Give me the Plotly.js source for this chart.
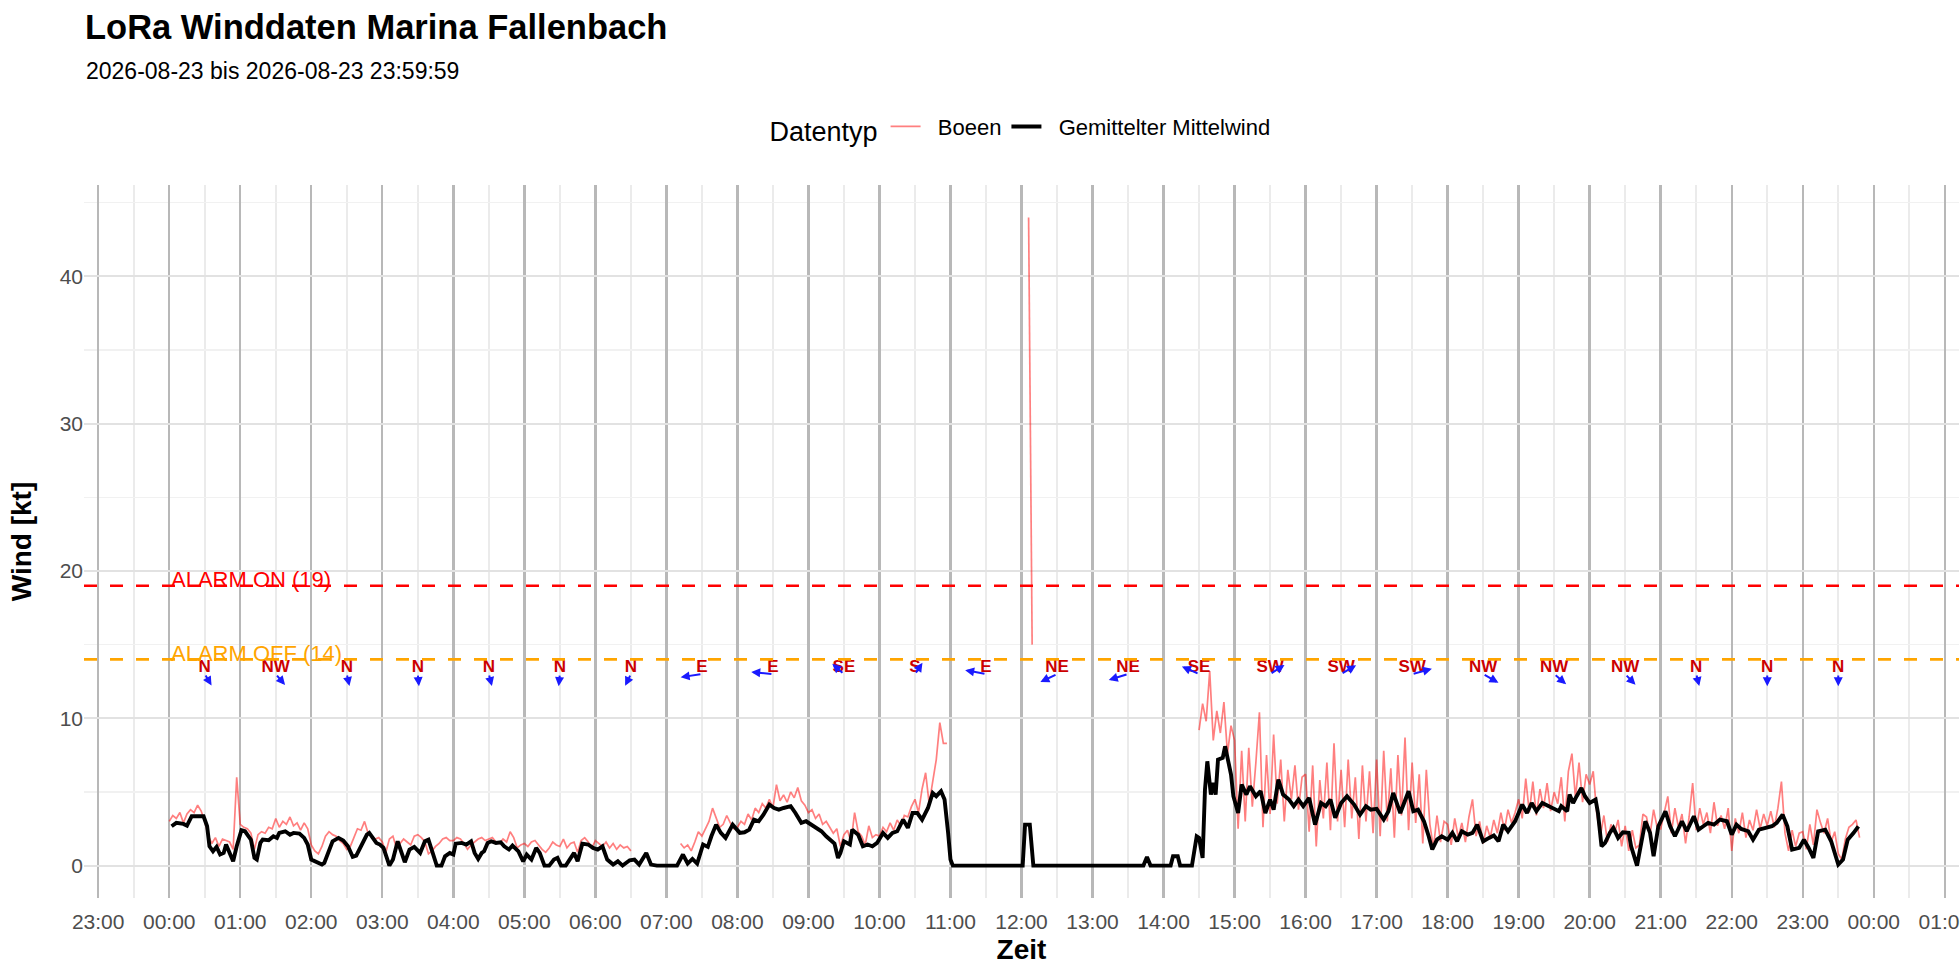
<!DOCTYPE html>
<html><head><meta charset="utf-8">
<script src="https://cdn.plot.ly/plotly-3.0.1.min.js"></script>
<style>html,body{margin:0;padding:0;background:#fff}#chart{width:1960px;height:980px}</style>
</head><body><div id="chart"></div>
<script>
// ---------- DATA ----------
const chartTitle = 'LoRa Winddaten Marina Fallenbach';
const periodStart = '2026-08-23';
const periodEnd = '2026-08-23 23:59:59';
const legendTitle = 'Datentyp';
const seriesNames = ['Boeen', 'Gemittelter Mittelwind'];
const alarmOn = 19;
const alarmOff = 14;

// Gemittelter Mittelwind: [minutes after 00:00, knots]
const meanSamples = [
 [2,2.67],[6,2.9],[12,2.83],[15,2.71],[19,3.35],[23,3.35],[29,3.35],[32,2.67],[34,1.31],[37,0.97],
 [40,1.27],[43,0.75],[46,0.86],[48,1.43],[51,0.86],[54,0.29],[57,1.31],[61,2.4],[64,2.33],[67,1.99],
 [69,1.76],[72,0.52],[74,0.41],[77,1.54],[79,1.76],[84,1.72],[88,1.99],[91,1.88],[93,2.22],[98,2.33],
 [102,2.1],[105,2.22],[110,2.17],[114,1.88],[117,1.43],[120,0.41],[124,0.23],[129,0.07],[131,0.18],[134,0.86],
 [138,1.65],[143,1.88],[147,1.7],[151,1.31],[155,0.59],[158,0.68],[162,1.27],[167,2.1],[169,2.22],[172,1.88],
 [175,1.54],[178,1.43],[181,1.2],[186,0],[189,0.41],[193,1.65],[196,0.86],[199,0.23],[203,1.09],[207,1.27],
 [212,0.86],[216,1.65],[219,1.76],[221,1.31],[226,0],[230,0],[233,0.63],[237,0.86],[240,0.75],[242,1.49],
 [247,1.54],[251,1.43],[255,1.65],[258,0.86],[261,0.45],[264,0.86],[266,0.97],[269,1.54],[272,1.65],[276,1.54],
 [280,1.58],[283,1.31],[287,1.09],[290,1.36],[295,0.97],[299,0.29],[302,0.75],[306,0.41],[310,1.2],[313,0.86],
 [317,0],[321,0],[325,0.41],[328,0.52],[331,0],[335,0],[338,0.41],[342,0.86],[345,0.29],[349,1.49],
 [354,1.43],[358,1.2],[362,1.09],[366,1.31],[370,0.41],[375,0.07],[379,0.29],[383,0],[389,0.36],[393,0.41],
 [397,0.07],[403,0.86],[407,0.07],[412,0],[420,0],[429,0],[434,0.75],[438,0.14],[442,0.45],[446,0.14],
 [451,1.43],[455,1.27],[458,1.99],[462,2.78],[466,2.22],[470,1.88],[476,2.78],[482,2.22],[486,2.26],[490,2.44],
 [494,3.12],[498,3.01],[502,3.46],[507,4.14],[511,3.91],[515,3.8],[519,3.91],[525,4.03],[529,3.57],[534,2.9],
 [538,3.01],[542,2.78],[546,2.56],[551,2.33],[555,1.99],[559,1.65],[562,1.49],[565,0.52],[567,0.86],[570,1.65],
 [575,1.43],[577,2.44],[582,2.1],[586,1.31],[590,1.43],[594,1.31],[598,1.54],[603,2.22],[607,1.88],[611,2.22],
 [615,2.33],[620,3.12],[624,2.56],[628,3.57],[632,3.57],[636,3.12],[641,3.91],[645,4.93],[648,4.71],[652,5.05],
 [655,4.48],[658,2.22],[660,0.41],[662,0],[721,0],[723,2.78],[727,2.78],[730,0],[823,0],[826,0.59],
 [829,0],[846,0],[848,0.63],[852,0.63],[854,0],[864,0],[868,1.99],[870,1.88],[873,0.52],[875,5.16],
 [877,7.08],[880,4.82],[882,5.61],[884,4.82],[886,7.19],[890,7.31],[892,8.1],[897,6.18],[899,4.71],[903,3.57],
 [906,5.5],[910,4.82],[913,5.38],[918,4.71],[922,5.05],[926,3.57],[930,4.48],[933,3.8],[937,5.84],[941,4.82],
 [946,4.48],[950,4.03],[954,4.48],[958,4.03],[963,4.59],[968,2.78],[973,4.25],[977,4.03],[981,4.48],[985,3.24],
 [990,4.25],[995,4.71],[1001,4.14],[1006,3.46],[1011,4.03],[1015,3.8],[1020,3.85],[1026,3.12],[1030,3.69],[1034,4.93],
 [1040,3.57],[1047,5.05],[1051,3.69],[1055,3.8],[1060,3.01],[1064,1.99],[1067,1.09],[1071,1.76],[1075,1.99],[1080,1.76],
 [1084,2.22],[1088,1.65],[1092,2.33],[1097,2.1],[1101,2.22],[1105,2.78],[1110,1.65],[1115,1.88],[1119,2.04],[1123,1.65],
 [1127,2.78],[1131,2.33],[1137,3.01],[1143,4.14],[1147,3.57],[1151,4.25],[1155,3.69],[1160,4.25],[1165,4.03],[1174,3.69],
 [1176,4.03],[1181,3.69],[1183,4.82],[1186,4.25],[1189,4.71],[1193,5.27],[1196,4.71],[1200,4.25],[1205,4.48],[1207,3.57],
 [1210,1.31],[1213,1.54],[1217,2.22],[1220,2.56],[1224,1.88],[1228,2.26],[1233,2.22],[1235,1.31],[1240,0],[1242,0.86],
 [1247,3.01],[1251,2.22],[1254,0.63],[1258,2.67],[1264,3.69],[1268,2.67],[1272,1.99],[1278,3.01],[1282,2.33],[1288,3.35],
 [1292,2.44],[1296,2.67],[1300,2.9],[1305,2.78],[1310,3.12],[1316,3.01],[1320,2.1],[1324,2.78],[1328,2.49],[1334,2.33],
 [1338,1.76],[1343,2.44],[1348,2.56],[1354,2.67],[1358,2.9],[1363,3.46],[1367,2.67],[1371,1.09],[1377,1.2],[1381,1.76],
 [1385,1.2],[1389,0.52],[1393,2.33],[1399,2.44],[1404,1.65],[1410,0.07],[1414,0.41],[1418,1.76],[1423,2.22],[1427,2.67]
];

// Boeen: one value every 3 minutes from 00:00 (null = no data)
const gustStepMin = 3;
const gustByHour = [
 [3.0,3.4,3.2,3.6,2.9,3.5,3.8,3.6,4.1,3.7,3.0,2.0,1.5,1.9,1.3,1.8,1.7,1.6,1.1,6.0],
 [2.8,2.6,2.5,2.2,1.1,2.1,2.3,2.2,2.6,2.5,3.2,2.6,3.0,2.8,3.3,2.7,2.9,2.4,2.9,2.5],
 [1.4,1.0,0.8,1.3,2.0,2.3,2.1,2.0,1.7,1.5,1.1,1.3,1.9,2.5,2.4,3.0,2.2,2.0,1.8,1.9],
 [1.6,0.9,1.8,2.0,1.2,1.5,1.8,1.6,1.4,2.0,2.1,1.9,1.6,0.8,1.0,1.3,1.5,1.8,1.9,1.7],
 [1.7,1.9,1.8,1.5,1.1,1.4,1.6,1.8,1.9,1.7,1.8,1.9,1.6,1.5,1.8,1.6,2.3,1.9,1.2,1.4],
 [1.5,1.3,1.6,1.7,1.4,1.1,0.9,1.2,1.6,1.4,1.3,1.8,1.2,1.5,1.6,0.9,1.7,1.9,1.6,1.2],
 [1.7,1.5,1.3,1.6,1.2,1.5,1.1,1.4,1.2,1.3,1.0,null,null,null,null,null,null,null,null,null],
 [null,null,null,null,1.5,1.2,1.4,1.0,1.6,2.3,2.0,2.5,3.0,3.9,3.2,2.6,2.8,3.4,2.9,2.5],
 [2.6,3.0,2.8,3.5,3.1,3.9,3.6,4.2,3.9,4.5,3.9,5.5,4.4,4.8,4.3,5.0,4.6,5.3,4.4,4.1],
 [3.6,3.8,3.2,3.5,2.8,3.0,2.6,2.2,2.5,1.3,2.1,2.4,1.6,3.6,2.3,2.0,1.4,2.7,1.9,2.1],
 [2.0,2.6,2.3,2.9,2.4,3.1,2.7,3.4,3.3,4.0,4.5,3.6,5.2,6.3,4.2,5.6,7.2,9.7,8.3,8.3],
 [null,null,null,null,null,null,null,null,null,null,null,null,null,null,null,null,null,null,null,null],
 [null,null,44,15,null,null,null,null,null,null,null,null,null,null,null,null,null,null,null,null],
 [null,null,null,null,null,null,null,null,null,null,null,null,null,null,null,null,null,null,null,null],
 [null,null,null,null,null,null,null,null,null,null,9.2,11.0,9.8,13.2,8.5,10.5,9.0,11.1,7.6,9.5],
 [8.5,2.5,7.8,3.0,8.0,4.0,7.0,10.4,2.6,7.5,3.5,8.9,4.2,7.2,3.0,6.5,4.5,6.8,3.8,6.0],
 [6.2,2.3,6.8,1.3,5.8,3.2,7.0,2.4,8.3,3.0,6.5,2.6,7.2,3.2,6.0,1.8,6.8,3.0,6.4,2.2],
 [7.2,2.0,7.8,3.0,6.6,1.9,7.5,3.4,8.7,2.4,7.0,2.9,6.2,1.5,6.5,2.8,1.2,3.4,1.6,3.0],
 [2.8,1.4,3.2,1.9,2.9,1.6,3.3,4.5,2.0,3.0,1.5,2.7,1.9,3.1,2.2,3.6,2.4,3.8,2.9,3.6],
 [4.5,3.2,5.9,3.6,5.7,3.4,5.2,3.9,5.6,3.7,5.0,4.2,6.0,3.0,6.4,7.6,4.6,7.0,4.3,6.2],
 [5.5,6.4,3.5,2.0,3.4,1.6,2.8,2.2,3.1,1.3,2.7,1.0,2.4,1.2,1.4,3.5,3.3,2.1,3.8,2.6],
 [2.5,3.6,4.7,2.2,3.9,2.6,3.5,1.5,3.3,5.6,2.4,3.9,2.8,3.6,2.2,4.3,2.7,3.4,2.5,3.9],
 [1.0,3.2,2.2,3.6,1.9,3.1,2.4,3.8,2.5,3.5,2.7,3.7,2.6,3.9,5.7,2.2,1.0,2.4,1.3,2.2],
 [2.3,1.1,2.8,1.4,3.8,2.9,2.2,3.2,1.6,2.3,0.8,0.4,1.8,2.6,2.8,3.1,1.9]
];

// Hourly wind direction (at hh:30)
const dirMin = [30,90,150,210,270,330,390,450,510,570,630,690,750,810,870,930,990,1050,1110,1170,1230,1290,1350,1410];
const dirLabel = ['N','NW','N','N','N','N','N','E','E','SE','S','E','NE','NE','SE','SW','SW','SW','NW','NW','NW','N','N','N'];
const dirDeg = [342,335,353,357,352,3,15,75,100,148,200,109,49,61,129,221,223,244,316,327,332,352,0,0];

// ---------- helpers ----------
const FONT = 'Liberation Sans, Arial, Helvetica, sans-serif';
function toDate(m) {
  const d = new Date(Date.UTC(2026, 7, 23, 0, 0, 0) + Math.round(m * 60000));
  return d.toISOString().slice(0, 19).replace('T', ' ');
}
const PAD = '\u00a0\u00a0';

const gustVals = gustByHour.flat();
const gustX = gustVals.map((_, i) => toDate(i * gustStepMin));
const meanX = meanSamples.map(p => toDate(p[0]));
const meanY = meanSamples.map(p => p[1]);

const LABEL_Y = 13.4, ARROW_Y = 13.0, ARROW_DX_MIN = 18.6, ARROW_DY_KT = 0.82;

const traces = [
  { type: 'scatter', mode: 'lines', name: PAD + seriesNames[0], x: gustX, y: gustVals,
    connectgaps: false, line: { color: 'rgba(255,0,0,0.5)', width: 1.7 }, hoverinfo: 'skip' },
  { type: 'scatter', mode: 'lines', name: PAD + seriesNames[1], x: meanX, y: meanY,
    line: { color: '#000000', width: 3.9 }, hoverinfo: 'skip' },
  { type: 'scatter', mode: 'text', showlegend: false, x: dirMin.map(toDate),
    y: dirMin.map(() => LABEL_Y), text: dirLabel, textposition: 'middle center',
    textfont: { family: FONT, size: 17, color: '#cc0000', weight: 'bold' }, hoverinfo: 'skip' }
];

const annotations = [];
dirMin.forEach((m, i) => {
  const to = (dirDeg[i] + 180) * Math.PI / 180;
  annotations.push({
    xref: 'x', yref: 'y', axref: 'x', ayref: 'y',
    x: toDate(m + Math.sin(to) * ARROW_DX_MIN), y: ARROW_Y + Math.cos(to) * ARROW_DY_KT,
    ax: toDate(m), ay: ARROW_Y, text: '', showarrow: true,
    arrowhead: 2, arrowsize: 0.9, arrowwidth: 2, arrowcolor: '#1a1aff'
  });
});
annotations.push({ xref: 'x', yref: 'y', x: toDate(0), y: alarmOn, xanchor: 'left', yanchor: 'middle',
  yshift: 6, text: 'ALARM ON (' + alarmOn + ')', showarrow: false, font: { family: FONT, size: 22, color: '#ff0000' } });
annotations.push({ xref: 'x', yref: 'y', x: toDate(0), y: alarmOff, xanchor: 'left', yanchor: 'middle',
  yshift: 6, text: 'ALARM OFF (' + alarmOff + ')', showarrow: false, font: { family: FONT, size: 22, color: '#ffa500' } });
// subtitle
annotations.push({ xref: 'paper', yref: 'paper', x: 0, xanchor: 'left', y: (898 - 71) / 713, yanchor: 'middle',
  text: periodStart + ' bis ' + periodEnd, showarrow: false, font: { family: FONT, size: 23, color: '#000' } });

const shapes = [
  { type: 'line', xref: 'paper', x0: 0, x1: 1, yref: 'y', y0: alarmOn, y1: alarmOn,
    line: { color: '#ff0000', width: 2.6, dash: '13px,13px' } },
  { type: 'line', xref: 'paper', x0: 0, x1: 1, yref: 'y', y0: alarmOff, y1: alarmOff,
    line: { color: '#ffa500', width: 2.6, dash: '13px,13px' } }
];

const layout = {
  width: 1960, height: 980,
  paper_bgcolor: '#ffffff', plot_bgcolor: '#ffffff',
  font: { family: FONT, color: '#000000' },
  margin: { l: 84, r: 1, t: 185, b: 82, pad: 0 },
  title: {
    text: chartTitle, font: { family: FONT, size: 34.5, weight: 'bold', color: '#000' },
    xref: 'container', x: 85 / 1960, xanchor: 'left', yref: 'container', y: 1 - 15 / 980, yanchor: 'top'
  },
  showlegend: true,
  legend: {
    orientation: 'h', x: 0.5, xanchor: 'center', xref: 'paper', y: 1.079, yanchor: 'middle', yref: 'paper',
    title: { text: legendTitle, side: 'left', font: { family: FONT, size: 27, color: '#000' } },
    font: { family: FONT, size: 22, color: '#000' }, itemwidth: 30, bgcolor: 'rgba(0,0,0,0)'
  },
  xaxis: {
    type: 'date', range: [toDate(-72), toDate(1512)],
    tickformat: '%H:%M', tick0: toDate(0), dtick: 3600000,
    showgrid: true, gridcolor: '#b8b8b8', gridwidth: 2.4,
    minor: { dtick: 1800000, tick0: toDate(0), showgrid: true, gridcolor: '#ebebeb', gridwidth: 1.6 },
    zeroline: false, showline: false, ticks: '', ticklabeloverflow: 'allow', ticklabelstandoff: 9,
    tickfont: { family: FONT, size: 21, color: '#4d4d4d' },
    title: { text: 'Zeit', font: { family: FONT, size: 28, weight: 'bold', color: '#000' }, standoff: 7 }
  },
  yaxis: {
    range: [-2.2, 46.2], tick0: 0, dtick: 10,
    showgrid: true, gridcolor: '#e2e2e2', gridwidth: 2,
    minor: { dtick: 5, tick0: 0, showgrid: true, gridcolor: '#f1f1f1', gridwidth: 1.4 },
    zeroline: false, showline: false, ticks: '',
    tickfont: { family: FONT, size: 21, color: '#4d4d4d' },
    title: { text: 'Wind [kt]', font: { family: FONT, size: 28, weight: 'bold', color: '#000' }, standoff: 19 }
  },
  shapes: shapes,
  annotations: annotations
};

Plotly.newPlot('chart', traces, layout, { staticPlot: true, displayModeBar: false });
</script>
</body></html>
